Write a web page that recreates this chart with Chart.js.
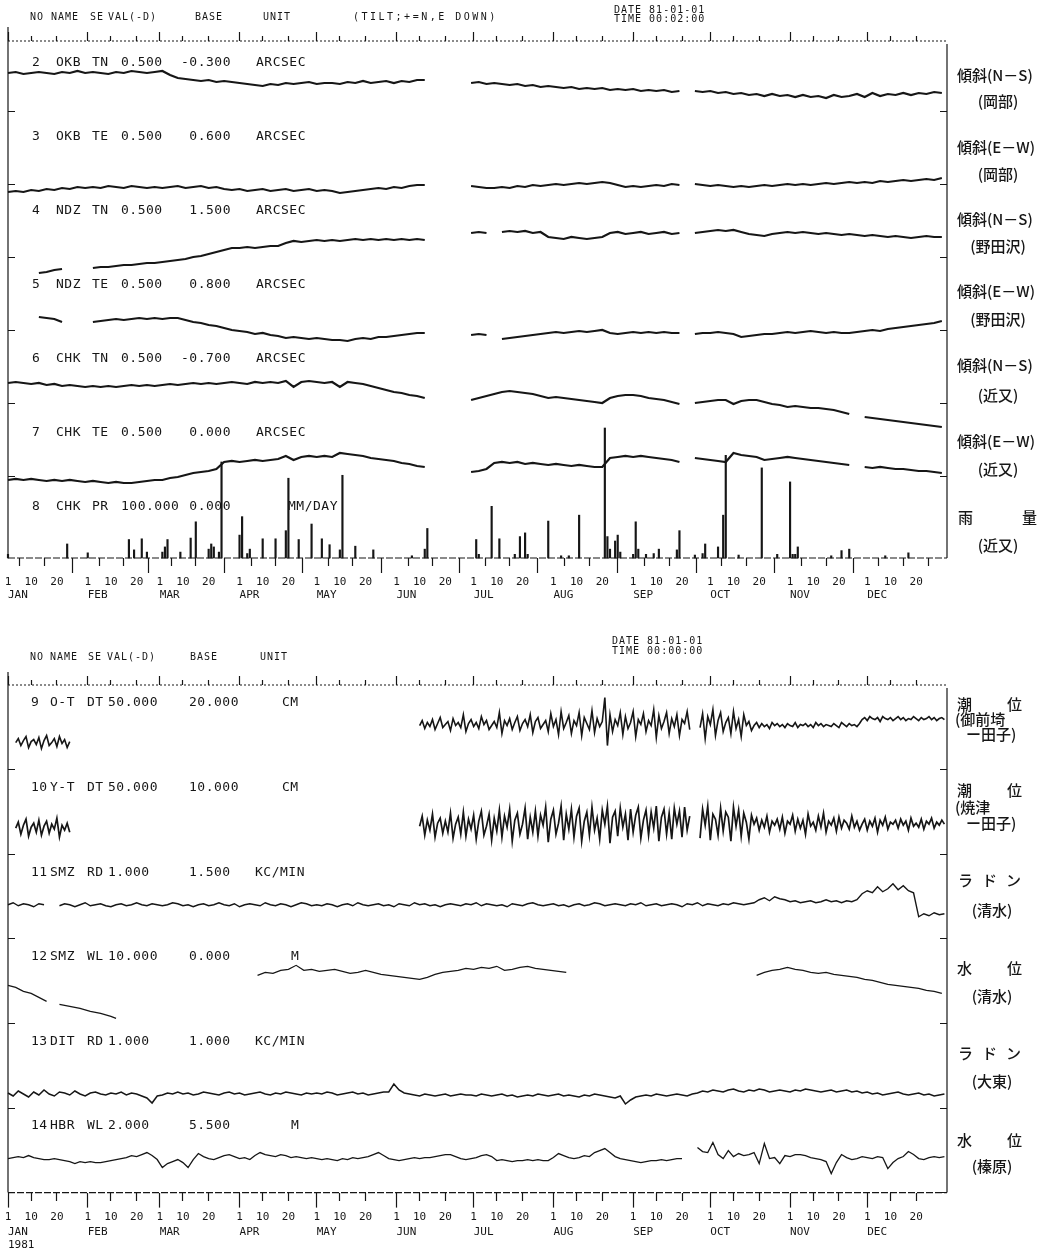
<!DOCTYPE html>
<html>
<head>
<meta charset="utf-8">
<script src="https://cdn.jsdelivr.net/npm/chart.js@4.4.1/dist/chart.umd.min.js"></script>
<style>
body { margin: 0; background: #fff; width: 1046px; height: 1254px; overflow: hidden; }
canvas { position: absolute; left: 0; }
#topChart { top: 0; }
#botChart { top: 620px; }
</style>
</head>
<body>
<canvas id="topChart" width="1046" height="620"></canvas>
<canvas id="botChart" width="1046" height="634"></canvas>
<script>
const INK = '#161616';
const MONO = '"DejaVu Sans Mono", "Liberation Mono", monospace';
const JP = '"Noto Sans CJK JP", sans-serif';

// calendar 1981, day of year
const monthStarts = [1, 32, 60, 91, 121, 152, 182, 213, 244, 274, 305, 335];
const monthNames = ['JAN', 'FEB', 'MAR', 'APR', 'MAY', 'JUN', 'JUL', 'AUG', 'SEP', 'OCT', 'NOV', 'DEC'];
const tickDays = [1, 10, 20, 32, 41, 51, 60, 69, 79, 91, 100, 110, 121, 130, 140, 152, 161, 171,
    182, 191, 201, 213, 222, 232, 244, 253, 263, 274, 283, 293, 305, 314, 324, 335, 344, 354];

// ---- top sheet: tilt (every 3rd day) and rain ----
const tiltDays = Array.from({length: 122}, (_, i) => 1 + 3 * i);

const okbTN = [39,40,38,39,40,39,38,40,39,41,39,40,39,38,40,39,41,40,39,40,41,
    37,34,33,32,31,32,30,31,30,29, 28,27,26,28,27,29,28,29,30,28, 29,29,28,30,29,31,29,30,31,29, 31,30,32,32,
    null,null,null,null,null,
    29,30,28,29,28,27,28,26,27,25, 26,25,24,25,23,24,23,24,22,23, 22,23,21,22,21,22,20,21,
    null,
    21,20,21,19,20,18,19,17,18,16, 18,16,17,15,17,15,16,14,17,15, 16,18,15,19,16,18,17,19,17,19, 18,20,19];
const okbTE = [-7,-6,-7,-5,-6,-4,-5,-3,-4,-2,-3,-2,-3,-1,-2,-3,-1,-2,-3,-2,-3,
    -2,-1,-3,-2,-1,-3,-2,-4,-5,-4, -6,-5,-4,-6,-5,-4,-6,-5,-4,-6, -5,-6,-8,-7,-6,-5,-4,-3,-4,-2, -3,-1,0,0,
    null,null,null,null,null,
    -1,-2,-3,-3,-2,-3,-1,-2,0,-1, 0,1,0,1,2,1,2,3,2,0, -2,-1,-2,-1,0,-1,1,0,
    null,
    1,0,-1,0,-1,-2,-1,-2,-1,0, -1,0,1,0,1,0,1,2,1,2, 3,2,3,2,4,3,4,5,4,5, 6,5,7];
const ndzTN = [null,null,null,null, -15,-14,-12,-11, null,null,null,
    -10,-9,-9,-8,-7,-7,-6,-5,-5,-4, -3,-2,-1,1,2,4,6,8,10,10, 11,10,11,12,12,15,17,16,17,18, 17,18,17,18,19,18,19,18,19,18, 19,18,19,18,
    null,null,null,null,null,
    25,26,25,null,26,27,26,27,25,26, 21,20,19,21,20,19,20,21,25,26, 24,25,26,24,25,26,24,25,
    null,
    25,26,27,28,27,28,26,24,23,22, 24,25,26,25,26,25,24,25,24,23, 24,23,22,23,22,21,22,21,20,21, 22,21,21];
const ndzTE = [null,null,null,null, 14,13,12,9, null,null,null,
    9,10,11,12,11,12,13,12,13,12, 13,13,11,9,8,6,5,3,1,0, -1,-3,-2,-4,-5,-7,-6,-7,-8,-7, -8,-9,-9,-10,-8,-7,-8,-6,-6,-5, -4,-3,-2,-2,
    null,null,null,null,null,
    -4,-3,-4,null,-8,-7,-6,-5,-4,-3, -2,-1,-2,-1,0,-1,0,1,-2,-3, -2,-1,-2,-1,-2,-1,-2,-2,
    null,
    -3,-2,-2,-1,-2,-3,-6,-5,-4,-3, -3,-2,-1,-2,-1,0,-1,-2,-1,-2, -2,-1,0,1,0,2,3,4,5,6, 7,8,10];
const chkTN = [21,22,21,20,21,19,20,18,19,18, 17,18,17,18,17,18,19,18,19,18, 19,20,19,20,21,20,21,20,21,22,
    21,20,22,21,22,21,23,17,22,23, 22,21,22,17,22,21,20,18,16,14, 12,11,9,8,6,
    null,null,null,null,null,
    4,6,8,10,12,13,12,11,10,8, 6,7,6,5,4,3,2,1,6,8, 9,9,8,6,5,4,2,0,
    null,
    1,2,3,4,4,0,3,4,4,2, 0,-1,-3,-2,-3,-4,-4,-5,-6,-8, -10,null,-13,-14,-15,-16,-17,-18,-19,-20, -21,-22,-23];
const chkTE = [-3,-2,-3,-2,-3,-4,-3,-4,-3,-4, -5,-4,-5,-6,-5,-6,-6,-5,-4,-3, -3,-1,0,2,4,5,6,8,15,16,
    15,16,17,16,17,18,21,17,20,21, 20,21,20,24,23,22,21,19,18,17, 16,14,13,11,10,
    null,null,null,null,null,
    5,6,8,14,15,14,15,13,14,13, 12,13,12,11,12,11,10,10,19,20, 21,20,21,20,19,18,17,15,
    null,
    19,18,17,16,15,24,22,21,20,17, 18,19,20,19,18,17,16,15,14,13, 12,null,10,9,10,9,8,8,7,6, 6,5,4];

const rainDays = [1,24,32,48,50,53,55,61,62,63, 68,72,74,79,80,81,83,84,91,92, 94,95,100,105,109,110,114,119,123,126,
    130,131,136,143,158,163,164,183,184,189, 192,198,200,202,203,211,216,219,223,233, 234,235,237,238,239,244,245,246,249,252,
    254,261,262,268,271,272,277,279,280,285, 294,300,305,306,307,308,321,325,328,342, 351];
const rainMM = [5,19,7,25,11,26,8,8,15,25, 8,27,49,12,19,15,8,130,31,56, 6,12,26,26,37,108,25,46,26,18,
    11,112,16,11,3,12,40,25,5,70, 26,5,29,34,5,50,3,3,58,176, 29,12,23,31,8,5,49,12,5,6,
    12,11,37,4,6,19,15,58,139,4, 122,5,103,5,5,15,3,10,12,3, 7];

// ---- bottom sheet ----
// tide differences, daily
const tideOTjan = [27,31,24,29,33,22,28,30,25,32,21,29,34,24,27,31,23,33,26,30,22,28];
const tideOTjun = [44,49,41,47,43,50,40,46,52,42, 45,48,39,51,44,47,42,55,38,46, 50,43,47,41,53,45,49,40,44,48,
    42,57,36,49,44,51,40,47,53,39, 46,50,43,55,37,48,52,41,45,49, 38,56,43,50,35,58,41,47,54,36,
    49,44,57,34,52,46,40,59,37,51, 43,48,72,24,55,38,50,44,57,35, 53,41,47,58,33,50,45,56,38,49,
    44,60,32,54,41,48,57,36,51,43, 55,34,50,46,58,40, null,null,null,
    42,56,31,53,45,60,34,49,57,38,47, 52,36,58,41,50,33,55,44,48,39, 44,47,42,46,43,45,41,47,44,46,
    43,45,42,46,44,43,47,42,45,44, 46,43,45,42,47,44,46,43,45,44, 43,46,44,42,47,45,43,46,44,45,43,46,
    50,52,49,53,51,50,52,48,53,51,50,52,49, 51,53,50,52,49,51,50,53,51,49,52,50,51,53,50,52,49,51,52,50];
const tideYTjan = [26,32,20,29,35,18,27,31,22,34,19,28,33,21,30,25,36,17,29,24,31,22];
const tideYTjun = [28,38,19,34,24,40,17,31,36,21, 33,22,41,16,30,37,20,42,18,35, 25,39,15,33,43,19,28,40,14,36,
    23,44,17,38,27,45,13,34,41,20, 30,46,15,37,22,43,18,39,29,47, 12,35,44,20,31,48,14,40,25,45,
    17,38,46,13,33,42,19,47,24,36, 15,44,30,48,11,37,43,18,46,27, 40,14,45,22,39,47,16,34,44,19,
    42,26,48,13,37,45,20,41,15,46, 30,43,17,47,24,38, null,null,null,
    16,45,29,48,14,40,35,19,46,23,42, 37,13,47,28,44,18,41,32,15,39, 30,36,24,34,27,38,22,33,29,35,
    25,37,21,33,30,39,23,35,26,34, 20,40,28,32,24,38,27,41,22,33, 29,36,23,37,26,34,31,25,38,27,33,24,
    30,35,24,33,28,36,22,34,29,37,25,32,30, 34,26,35,29,33,24,36,28,31,27,35,25,33,30,36,26,32,29,34,30];

// every 2nd day
const evenDays = Array.from({length: 183}, (_, j) => 1 + 2 * j);
const radonSMZ = [34,36,33,35,34,32,35,34, null,null,
    33,35,34,32,34,36,33,34,35,33, 32,34,35,33,34,36,34,33,35,34,
    33,34,36,35,33,34,32,34,35,33, 34,36,34,33,35,32,34,35,34,33, 36,34,33,35,34,32,34,36,35,33,
    34,33,35,34,32,34,35,33,36,34, 33,34,35,33,34,32,35,34,33,36, 34,35,33,34,32,34,35,34,33,35,
    34,36,33,35,34,33,34,32,35,34, 33,35,36,34,33,34,35,33,34,32, 34,35,33,34,36,35,33,34,35,34,
    33,35,34,36,33,34,35,33,34,35, 34,32,35,34,36,33,35,34,33,35, 34,36,35,34,35,36,
    39,41,38,42,40,39,37,38,36, 37,38,36,37,39,37,38,36,38,37,39,
    45,48,46,52,47,50,55,49,53,48, 46,22,25,23,26,24,25];
const radonDIT = [15,12,17,14,11,16,13,18,14,12, 16,15,13,17,14,12,15,16,14,13, 15,14,16,13,15,14,12,10,5,12,
    13,15,14,16,14,15,13,14,16,15, 14,13,15,16,14,15,13,14,15,16, 14,13,15,14,16,15,14,13,15,14,
    15,14,16,15,13,14,15,16,14,15, 13,14,15,16,16,24,18,15,14,13, 12,14,13,12,13,14,12,13,14,13,
    13,12,14,13,12,13,14,12,13,11, 12,13,12,14,13,12,13,14,12,13, 12,11,13,12,14,13,12,11,10,12,
    4,8,11,12,13,12,14,13,12,13,14,13,12,14,15,
    17,16,18,17,16,18,19,17,16,18, 17,19,18,16,17,18,17,16,18,17, 19,18,17,16,17,18,16,17,18,16,17,
    15,16,14,15,13,14,15,16,14,13,14,15,13,14,12,13,14];
const wlHBR = [34,35,36,35,37,35,34,33,33,34, 33,32,31,29,31,30,31,30,30,31, 32,33,34,35,37,36,38,40,37,33,
    25,29,31,33,30,25,33,39,36,34, 33,35,37,38,36,34,35,33,37,40, 38,37,36,38,37,35,36,35,34,35,
    34,33,34,33,32,34,33,35,34,35, 36,38,40,37,34,33,32,33,34,35, 34,35,35,36,37,38,38,36,34,33,
    34,35,37,38,36,32,33,32,31,32, 32,33,32,33,32,32,35,39,37,35, 34,35,37,36,40,42,44,40,36,34,
    33,32,31,30,31,32,32,33,32,33,34,34, null,null,
    45,41,40,50,38,34,42,36,39,37,38,40, 29,49,34,35,29,37,36,38,38,37,35,34,33,31,
    19,30,38,35,33,34,36,35,34,36, 35,24,30,34,36,41,38,34,33,35,36,35,36];

// well water level, Shimizu (every 3rd day inside each run)
const wlSMZdays1 = [1, 4, 7, 10, 13, 16];
const wlSMZ1 = [38, 36, 32, 30, 26, 22];
const wlSMZdays2 = [21, 25, 29, 33, 37, 41, 43];
const wlSMZ2 = [19, 17, 15, 12, 10, 7, 5];
const wlSMZdays3 = Array.from({length: 41}, (_, i) => 98 + 3 * i);
const wlSMZ3 = [48,51,50,53,54,58,53,54,52,53, 54,52,50,51,53,51,49,48,47,46, 45,44,46,49,51,52,53,55,54,56,
    55,57,53,54,56,57,55,54,53,52, 51];
const wlSMZdays4 = Array.from({length: 25}, (_, i) => 292 + 3 * i);
const wlSMZ4 = [48,51,53,54,56,54,53,51,50,51, 49,48,47,46,44,43,41,39,38,37, 36,35,33,32,30];

// ---- helpers ----
const pts = (days, vals) => days.map((d, i) => ({x: d, y: vals[i]}));
const run = (start, vals) => vals.map((v, i) => ({x: start + i, y: v}));
const gap = (d) => [{x: d, y: null}];
const monthOf = (v) => { let m = 0; monthStarts.forEach((s, i) => { if (v >= s) m = i; }); return m; };

function stripScale(min, span, baseTick) {
    return {
        type: 'linear', position: 'left', stack: 'strips', stackWeight: 1,
        min: min, max: min + span,
        ticks: {display: false},
        afterBuildTicks: (ax) => { ax.ticks = [{value: 0}]; },
        grid: {display: baseTick, drawTicks: false, color: INK, lineWidth: 1},
        border: {display: false, dash: [7, 925, 7, 3000]}
    };
}

function xScales(numH, yearLine) {
    return {
        x: {
            type: 'linear', position: 'bottom', min: 1, max: 366, offset: false,
            afterBuildTicks: (ax) => { ax.ticks = tickDays.map(v => ({value: v})); },
            afterFit: (ax) => { ax.height = numH; },
            ticks: {
                autoSkip: false, maxRotation: 0, padding: 3, color: INK,
                font: {family: MONO, size: 11},
                callback: (v) => String(v - monthStarts[monthOf(v)] + 1)
            },
            grid: {
                drawOnChartArea: false, drawTicks: true, tickLength: 15, tickColor: INK, tickWidth: 1.2,
                tickBorderDash: (c) => (c.tick && monthStarts.includes(c.tick.value)) ? [] : [8, 40]
            },
            border: {display: false}
        },
        xm: {
            type: 'linear', position: 'bottom', min: 1, max: 366,
            afterBuildTicks: (ax) => { ax.ticks = monthStarts.map(v => ({value: v})); },
            ticks: {
                autoSkip: false, maxRotation: 0, padding: 2, align: 'start', color: INK,
                font: {family: MONO, size: 11},
                callback: (v, i) => (yearLine && i === 0) ? [monthNames[0], '1981'] : monthNames[monthOf(v)]
            },
            grid: {display: false, drawTicks: false},
            border: {display: false}
        },
        xt: {
            type: 'linear', position: 'top', min: 1, max: 366,
            afterBuildTicks: (ax) => { ax.ticks = tickDays.map(v => ({value: v})); },
            afterFit: (ax) => { ax.height = 9; },
            ticks: {display: false},
            grid: {
                drawOnChartArea: false, drawTicks: true, tickLength: 9, tickColor: INK, tickWidth: 1.2,
                tickBorderDash: (c) => (c.tick && monthStarts.includes(c.tick.value)) ? [] : [0, 4, 30]
            },
            border: {display: false}
        }
    };
}

function paper(sheet) {
    return {
        id: 'paper',
        afterDraw(chart) {
            const {ctx, chartArea: a} = chart;
            ctx.save();
            ctx.strokeStyle = INK;
            ctx.fillStyle = INK;
            ctx.lineWidth = 1.2;
            const seg = (x1, y1, x2, y2, dash) => {
                ctx.setLineDash(dash);
                ctx.beginPath(); ctx.moveTo(x1, y1); ctx.lineTo(x2, y2); ctx.stroke();
            };
            seg(a.left, a.top - sheet.leftRise, a.left, a.bottom, []);
            seg(a.right, a.top + 3, a.right, a.bottom, []);
            seg(a.left, a.top, a.right, a.top, [2, 2]);
            seg(a.left, a.bottom, a.right, a.bottom, [7, 2]);
            ctx.setLineDash([]);
            ctx.textBaseline = 'middle';
            ctx.textAlign = 'left';

            ctx.font = '10px ' + MONO;
            sheet.header.forEach(h => {
                ctx.letterSpacing = h[3] + 'px';
                ctx.fillText(h[0], h[1], h[2]);
            });

            ctx.font = '13px ' + MONO;
            ctx.letterSpacing = '0.5px';
            sheet.rows.forEach((row, k) => {
                const y = chart.scales[sheet.ids[k]].top + sheet.labelDy;
                row.forEach((t, c) => {
                    const col = sheet.cols[c];
                    ctx.textAlign = col[1];
                    const x = (c === 5 && sheet.unitX[t]) ? sheet.unitX[t] : col[0];
                    ctx.fillText(t, x, y);
                });
            });

            ctx.letterSpacing = '0px';
            ctx.font = '500 15px ' + JP;
            sheet.side.forEach(s => {
                ctx.textAlign = s[3] || 'left';
                ctx.fillText(s[0], s[1], s[2]);
            });
            ctx.restore();
        }
    };
}

// ---- top chart ----
const TOP_SPAN = (558 - 41) / 7;
const tiltSeries = [['y2', okbTN], ['y3', okbTE], ['y4', ndzTN], ['y5', ndzTE], ['y6', chkTN], ['y7', chkTE]];
const topSets = tiltSeries.map(([id, vals]) => ({
    type: 'line', data: pts(tiltDays, vals), xAxisID: 'x', yAxisID: id, clip: false,
    borderColor: INK, borderWidth: 2.2, pointRadius: 0, tension: 0
}));
topSets.push({
    type: 'bar', data: pts(rainDays, rainMM), xAxisID: 'x', yAxisID: 'y8', clip: false,
    backgroundColor: INK, barThickness: 1.5, grouped: false
});

const topScales = {
    y8: stripScale(0, 100, false),
    y7: stripScale(-7.16, TOP_SPAN, true),
    y6: stripScale(-6.3, TOP_SPAN, true),
    y5: stripScale(-5.44, TOP_SPAN, true),
    y4: stripScale(-4.58, TOP_SPAN, true),
    y3: stripScale(-3.72, TOP_SPAN, true),
    y2: stripScale(-2.86, TOP_SPAN, true),
    ...xScales(29, false)
};
topScales.xm.afterFit = (ax) => { ax.height = 20; };

new Chart(document.getElementById('topChart'), {
    type: 'line',
    data: {datasets: topSets},
    options: {
        responsive: false, animation: false, devicePixelRatio: 1, events: [],
        layout: {padding: {left: 8, right: 99, top: 32, bottom: 13}},
        plugins: {legend: {display: false}, tooltip: {enabled: false}},
        scales: topScales
    },
    plugins: [paper({
        leftRise: 14,
        header: [['NO', 30, 17, 1], ['NAME', 51, 17, 1], ['SE', 90, 17, 1], ['VAL(-D)', 108, 17, 1],
            ['BASE', 195, 17, 1], ['UNIT', 263, 17, 1], ['(TILT;+=N,E DOWN)', 353, 17, 2.5],
            ['DATE 81-01-01', 614, 10, 1], ['TIME 00:02:00', 614, 19, 1]],
        ids: ['y2', 'y3', 'y4', 'y5', 'y6', 'y7', 'y8'],
        labelDy: 22,
        cols: [[32, 'left'], [56, 'left'], [92, 'left'], [121, 'left'], [231, 'right'], [256, 'left']],
        unitX: {'MM/DAY': 288},
        rows: [['2', 'OKB', 'TN', '0.500', '-0.300', 'ARCSEC'],
            ['3', 'OKB', 'TE', '0.500', '0.600', 'ARCSEC'],
            ['4', 'NDZ', 'TN', '0.500', '1.500', 'ARCSEC'],
            ['5', 'NDZ', 'TE', '0.500', '0.800', 'ARCSEC'],
            ['6', 'CHK', 'TN', '0.500', '-0.700', 'ARCSEC'],
            ['7', 'CHK', 'TE', '0.500', '0.000', 'ARCSEC'],
            ['8', 'CHK', 'PR', '100.000', '0.000', 'MM/DAY']],
        side: [['傾斜(N－S)', 957, 75], ['(岡部)', 998, 101, 'center'],
            ['傾斜(E－W)', 957, 147], ['(岡部)', 998, 174, 'center'],
            ['傾斜(N－S)', 957, 219], ['(野田沢)', 998, 246, 'center'],
            ['傾斜(E－W)', 957, 291], ['(野田沢)', 998, 319, 'center'],
            ['傾斜(N－S)', 957, 365], ['(近又)', 998, 395, 'center'],
            ['傾斜(E－W)', 957, 441], ['(近又)', 998, 469, 'center'],
            ['雨', 958, 517], ['量', 1037, 517, 'right'], ['(近又)', 998, 545, 'center']]
    })]
});

// ---- bottom chart ----
const BOT_SPAN = (572 - 65) / 6;
const line = (data, id, w) => ({
    type: 'line', data: data, xAxisID: 'x', yAxisID: id, clip: false,
    borderColor: INK, borderWidth: w, pointRadius: 0, tension: 0
});
const botSets = [
    line(run(4, tideOTjan).concat(gap(30), run(161, tideOTjun)), 'y9', 1.6),
    line(run(4, tideYTjan).concat(gap(30), run(161, tideYTjun)), 'y10', 1.7),
    line(pts(evenDays, radonSMZ), 'y11', 1.4),
    line(pts(wlSMZdays1, wlSMZ1).concat(gap(18), pts(wlSMZdays2, wlSMZ2), gap(70),
        pts(wlSMZdays3, wlSMZ3), gap(250), pts(wlSMZdays4, wlSMZ4)), 'y12', 1.2),
    line(pts(evenDays, radonDIT), 'y13', 1.5),
    line(pts(evenDays, wlHBR), 'y14', 1.3)
];
const botScales = {
    y14: stripScale(0, BOT_SPAN, true),
    y13: stripScale(0, BOT_SPAN, true),
    y12: stripScale(0, BOT_SPAN, true),
    y11: stripScale(0, BOT_SPAN, true),
    y10: stripScale(0, BOT_SPAN, true),
    y9: stripScale(0, BOT_SPAN, true),
    ...xScales(31, true)
};

new Chart(document.getElementById('botChart'), {
    type: 'line',
    data: {datasets: botSets},
    options: {
        responsive: false, animation: false, devicePixelRatio: 1, events: [],
        layout: {padding: {left: 8, right: 99, top: 56, bottom: 0}},
        plugins: {legend: {display: false}, tooltip: {enabled: false}},
        scales: botScales
    },
    plugins: [paper({
        leftRise: 13,
        header: [['NO', 30, 37, 1], ['NAME', 50, 37, 1], ['SE', 88, 37, 1], ['VAL(-D)', 107, 37, 1],
            ['BASE', 190, 37, 1], ['UNIT', 260, 37, 1],
            ['DATE 81-01-01', 612, 21, 1], ['TIME 00:00:00', 612, 31, 1]],
        ids: ['y9', 'y10', 'y11', 'y12', 'y13', 'y14'],
        labelDy: 18,
        cols: [[31, 'left'], [50, 'left'], [87, 'left'], [108, 'left'], [189, 'left'], [255, 'left']],
        unitX: {'CM': 282, 'M': 291},
        rows: [['9', 'O-T', 'DT', '50.000', '20.000', 'CM'],
            ['10', 'Y-T', 'DT', '50.000', '10.000', 'CM'],
            ['11', 'SMZ', 'RD', '1.000', '1.500', 'KC/MIN'],
            ['12', 'SMZ', 'WL', '10.000', '0.000', 'M'],
            ['13', 'DIT', 'RD', '1.000', '1.000', 'KC/MIN'],
            ['14', 'HBR', 'WL', '2.000', '5.500', 'M']],
        side: [['潮', 957, 84], ['位', 1022, 84, 'right'], ['(御前埼', 955, 99], ['ー田子)', 966, 114],
            ['潮', 957, 170], ['位', 1022, 170, 'right'], ['(焼津', 955, 187], ['ー田子)', 966, 203],
            ['ラ', 958, 260], ['ド', 982, 260], ['ン', 1006, 260], ['(清水)', 992, 290, 'center'],
            ['水', 957, 348], ['位', 1022, 348, 'right'], ['(清水)', 992, 376, 'center'],
            ['ラ', 958, 433], ['ド', 982, 433], ['ン', 1006, 433], ['(大東)', 992, 461, 'center'],
            ['水', 957, 520], ['位', 1022, 520, 'right'], ['(榛原)', 992, 546, 'center']]
    })]
});
</script>
</body>
</html>
